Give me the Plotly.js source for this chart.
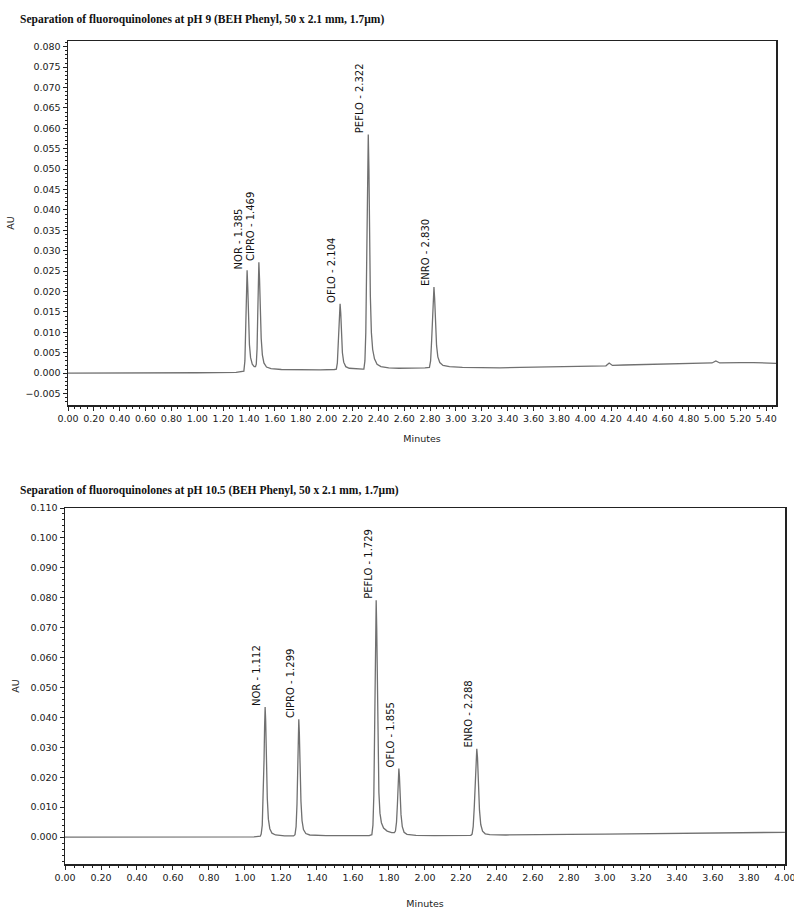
<!DOCTYPE html>
<html>
<head>
<meta charset="utf-8">
<script src="https://cdn.plot.ly/plotly-3.0.1.min.js"></script>
<style>html,body{margin:0;padding:0;background:#fff;}#chart{width:794px;height:909px;}</style>
</head>
<body>
<div id="chart"></div>
<script>
// ---------- Data ----------
const topTitle = "Separation of fluoroquinolones at pH 9 (BEH Phenyl, 50 x 2.1 mm, 1.7\u00b5m)";
const bottomTitle = "Separation of fluoroquinolones at pH 10.5 (BEH Phenyl, 50 x 2.1 mm, 1.7\u00b5m)";

// pH 9 chromatogram (minutes, AU)
const topTime = [0.000,0.500,1.000,1.300,1.350,
  1.360,1.368,1.374,1.379,1.385,1.390,1.396,1.403,1.412,1.425,1.440,1.450,
  1.456,1.462,1.467,1.472,1.476,1.481,1.487,1.494,1.503,1.515,1.535,1.570,1.650,1.800,1.950,2.060,
  2.075,2.083,2.090,2.097,2.104,2.109,2.115,2.122,2.132,2.148,2.175,2.230,2.280,
  2.288,2.296,2.303,2.310,2.316,2.322,2.327,2.332,2.338,2.346,2.356,2.370,2.390,2.420,2.480,2.560,2.650,2.760,
  2.795,2.804,2.812,2.819,2.825,2.830,2.835,2.842,2.850,2.860,2.875,2.900,2.950,3.050,
  3.200,3.340,3.500,3.700,3.900,4.100,4.160,4.185,4.210,4.300,4.450,4.600,4.800,4.980,5.010,5.040,5.200,5.300,5.475];
const topAU = [0.0000,0.0000,0.0001,0.0002,0.0003,
  0.0005,0.0030,0.0100,0.0190,0.0252,0.0212,0.0130,0.0070,0.0038,0.0022,0.0016,0.0016,
  0.0022,0.0060,0.0140,0.0230,0.0272,0.0232,0.0150,0.0085,0.0045,0.0025,0.0015,0.0011,0.0009,0.0008,0.0008,0.0009,
  0.0010,0.0025,0.0070,0.0135,0.0170,0.0148,0.0095,0.0050,0.0027,0.0016,0.0012,0.0010,0.0010,
  0.0010,0.0030,0.0100,0.0270,0.0470,0.0585,0.0500,0.0330,0.0190,0.0100,0.0058,0.0035,0.0022,0.0016,0.0013,0.0012,0.0012,0.0013,
  0.0014,0.0030,0.0080,0.0150,0.0198,0.0211,0.0185,0.0120,0.0068,0.0040,0.0026,0.0019,0.0016,0.0014,
  0.0013,0.0013,0.0014,0.0015,0.0017,0.0018,0.0018,0.0025,0.0019,0.0020,0.0021,0.0023,0.0024,0.0025,0.0030,0.0025,0.0026,0.0026,0.0024];
const topPeakNames = ["NOR","CIPRO","OFLO","PEFLO","ENRO"];
const topPeakRT = ["1.385","1.469","2.104","2.322","2.830"];
const topPeakApex = [1.385,1.476,2.104,2.322,2.830];

// pH 10.5 chromatogram (minutes, AU)
const bottomTime = [0.000,0.500,0.900,1.050,1.085,
  1.090,1.096,1.101,1.106,1.109,1.112,1.115,1.119,1.124,1.130,1.138,1.150,1.170,1.220,1.270,
  1.278,1.284,1.289,1.293,1.296,1.299,1.302,1.306,1.311,1.317,1.325,1.338,1.360,1.450,1.600,1.690,
  1.705,1.711,1.716,1.720,1.724,1.727,1.729,1.732,1.735,1.739,1.744,1.750,1.758,1.770,1.790,1.815,1.830,
  1.836,1.842,1.847,1.851,1.855,1.858,1.862,1.867,1.874,1.884,1.900,1.950,2.050,2.200,2.255,
  2.262,2.268,2.274,2.279,2.284,2.288,2.292,2.297,2.303,2.310,2.320,2.335,2.360,2.450,2.600,2.800,3.000,3.200,3.400,3.600,3.800,4.000];
const bottomAU = [0.0000,0.0000,0.0000,0.0001,0.0003,
  0.0010,0.0040,0.0120,0.0260,0.0370,0.0435,0.0390,0.0260,0.0130,0.0060,0.0028,0.0013,0.0007,0.0004,0.0004,
  0.0008,0.0035,0.0110,0.0230,0.0330,0.0394,0.0350,0.0235,0.0120,0.0055,0.0025,0.0012,0.0007,0.0005,0.0004,0.0005,
  0.0008,0.0040,0.0140,0.0330,0.0580,0.0740,0.0792,0.0700,0.0500,0.0290,0.0150,0.0080,0.0048,0.0030,0.0020,0.0015,0.0015,
  0.0020,0.0050,0.0110,0.0185,0.0229,0.0205,0.0140,0.0075,0.0035,0.0016,0.0009,0.0006,0.0005,0.0005,0.0006,
  0.0010,0.0035,0.0100,0.0190,0.0265,0.0295,0.0265,0.0175,0.0090,0.0042,0.0020,0.0011,0.0008,0.0007,0.0007,0.0009,0.0010,0.0011,0.0013,0.0013,0.0015,0.0016];
const bottomPeakNames = ["NOR","CIPRO","PEFLO","OFLO","ENRO"];
const bottomPeakRT = ["1.112","1.299","1.729","1.855","2.288"];
const bottomPeakApex = [1.112,1.299,1.729,1.855,2.288];

const xLabel = "Minutes";
const yLabel = "AU";

// ---------- Styling ----------
const W = 794, H = 909;
const tickFont = {family: "DejaVu Sans", size: 9.5, color: "#1a1a1a"};
const labelFont = {family: "DejaVu Sans", size: 10, color: "#111"};
const titleFont = {family: "Liberation Serif", size: 11.5, color: "#111", weight: "bold"};
const lineCol = "#222";
const traceCol = "#707070";

function px2x(p){ return p / W; }
function px2y(p){ return 1 - p / H; }

function axisCommon(){
  return {
    showline: true, linecolor: lineCol, linewidth: 1.5, mirror: true,
    showgrid: false, zeroline: false,
    ticks: "outside", ticklen: 4, tickwidth: 1, tickcolor: lineCol,
    tickfont: tickFont, automargin: false, fixedrange: true,
    ticklabeloverflow: "allow"
  };
}

function peakHeight(times, aus, t){
  let best = 0;
  for (let i = 0; i < times.length; i++){
    if (Math.abs(times[i] - t) < 0.004 && aus[i] > best) best = aus[i];
  }
  return best;
}

const traces = [
  {x: topTime, y: topAU, xaxis: "x", yaxis: "y", type: "scatter", mode: "lines",
   line: {color: traceCol, width: 1.3}, hoverinfo: "skip", showlegend: false},
  {x: bottomTime, y: bottomAU, xaxis: "x2", yaxis: "y2", type: "scatter", mode: "lines",
   line: {color: traceCol, width: 1.3}, hoverinfo: "skip", showlegend: false}
];

const annotations = [];
topPeakNames.forEach((n, i) => {
  annotations.push({xref: "x", yref: "y", x: topPeakApex[i], y: peakHeight(topTime, topAU, topPeakApex[i]),
    text: n + " - " + topPeakRT[i], textangle: -90, showarrow: false,
    xanchor: "right", yanchor: "bottom", xshift: -2, yshift: 0, font: labelFont, borderpad: 0});
});
bottomPeakNames.forEach((n, i) => {
  annotations.push({xref: "x2", yref: "y2", x: bottomPeakApex[i], y: peakHeight(bottomTime, bottomAU, bottomPeakApex[i]),
    text: n + " - " + bottomPeakRT[i], textangle: -90, showarrow: false,
    xanchor: "right", yanchor: "bottom", xshift: -2, yshift: 0, font: labelFont, borderpad: 0});
});
annotations.push({xref: "paper", yref: "paper", x: px2x(18), y: px2y(20), xanchor: "left", yanchor: "middle",
  text: "<b>" + topTitle + "</b>", showarrow: false, font: titleFont});
annotations.push({xref: "paper", yref: "paper", x: px2x(18), y: px2y(490), xanchor: "left", yanchor: "middle",
  text: "<b>" + bottomTitle + "</b>", showarrow: false, font: titleFont});

const layout = {
  width: W, height: H,
  margin: {l: 0, r: 0, t: 0, b: 0},
  paper_bgcolor: "#fff", plot_bgcolor: "#fff",
  showlegend: false,
  xaxis: Object.assign(axisCommon(), {
    domain: [px2x(68), px2x(776)], range: [0, 5.475], anchor: "y",
    dtick: 0.2, tick0: 0, tickformat: ".2f",
    minor: {dtick: 0.05, ticks: "outside", ticklen: 2, tickcolor: lineCol, showgrid: false},
    title: {text: xLabel, font: tickFont, standoff: 12}
  }),
  yaxis: Object.assign(axisCommon(), {
    domain: [px2y(405), px2y(41)], range: [-0.0078, 0.0814], anchor: "x",
    dtick: 0.005, tick0: 0, tickformat: ".3f",
    minor: {dtick: 0.001, ticks: "outside", ticklen: 2, tickcolor: lineCol, showgrid: false},
    title: {text: yLabel, font: tickFont, standoff: 9}
  }),
  xaxis2: Object.assign(axisCommon(), {
    domain: [px2x(65), px2x(785)], range: [0, 4.0005], anchor: "y2",
    dtick: 0.2, tick0: 0, tickformat: ".2f",
    minor: {dtick: 0.05, ticks: "outside", ticklen: 2, tickcolor: lineCol, showgrid: false},
    title: {text: xLabel, font: tickFont, standoff: 18}
  }),
  yaxis2: Object.assign(axisCommon(), {
    domain: [px2y(864), px2y(508)], range: [-0.009, 0.110], anchor: "x2",
    dtick: 0.01, tick0: 0, tickformat: ".3f",
    minor: {dtick: 0.002, ticks: "outside", ticklen: 2, tickcolor: lineCol, showgrid: false},
    title: {text: yLabel, font: tickFont, standoff: 9}
  }),
  annotations: annotations
};

Plotly.newPlot("chart", traces, layout, {staticPlot: true, displayModeBar: false});
</script>
</body>
</html>
